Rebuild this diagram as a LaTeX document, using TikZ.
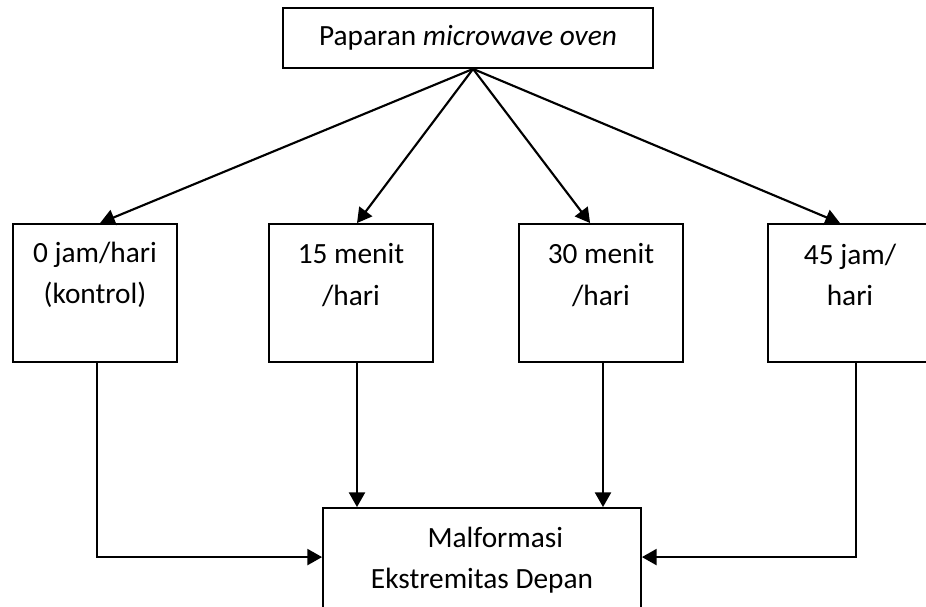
\documentclass[tikz,border=0pt]{standalone}
\usepackage{fontspec}
\setmainfont{Carlito}
\usetikzlibrary{arrows.meta}

\begin{document}
\begin{tikzpicture}[x=0.375pt, y=-0.375pt,
    every node/.style={font=\fontsize{11}{15.4}\selectfont},
    mybox/.style={rectangle, draw=black, line width=0.7pt, inner sep=0pt, align=center},
    dosebox/.style={mybox, minimum width=61.5pt, minimum height=51.75pt},
    doselabel/.style={inner sep=0pt, align=center},
    myarrow/.style={-{Triangle[length=5.5pt,width=6pt]}, line width=0.8pt}]
    \useasboundingbox (0,0) rectangle (926,606);
    \clip (0,0) rectangle (926,606); % right box and bottom box run off the page
    \node[mybox, minimum width=138.75pt, minimum height=22.5pt] (paparan) at (468,38) {Paparan \textit{microwave oven}};
    \node[dosebox] (d0) at (95,293) {};
    \node[dosebox] (d15) at (351,293) {};
    \node[dosebox] (d30) at (601,293) {};
    \node[dosebox] (d45) at (850,293) {};
    \node[doselabel] (t0) at (95,275) {0 jam/hari\\(kontrol)}; % labels sit in the top half
    \node[doselabel] (t15) at (351,275) {15 menit\\/hari};
    \node[doselabel] (t30) at (601,275) {30 menit\\/hari};
    \node[doselabel] (t45) at (850,275) {45 jam/\\hari};
    \node[mybox, minimum width=119.25pt, minimum height=39pt] (malformasi) at (482,560) {\hspace*{10pt}Malformasi\\Ekstremitas Depan};
    \draw[myarrow] ([xshift=1.9pt]paparan.south) -- ([xshift=1.9pt]d0.north);
    \draw[myarrow] ([xshift=1.9pt]paparan.south) -- ([xshift=2.25pt]d15.north);
    \draw[myarrow] ([xshift=1.9pt]paparan.south) -- ([xshift=-4.1pt]d30.north);
    \draw[myarrow] ([xshift=1.9pt]paparan.south) -- ([xshift=-3.75pt]d45.north);
    \draw[myarrow] ([xshift=0.75pt]d0.south) |- ([yshift=1.1pt]malformasi.west);
    \draw[myarrow] ([xshift=2.25pt]d15.south) -- ([xshift=2.25pt]d15.south |- malformasi.north);
    \draw[myarrow] ([xshift=0.75pt]d30.south) -- ([xshift=0.75pt]d30.south |- malformasi.north);
    \draw[myarrow] ([xshift=2.25pt]d45.south) |- ([yshift=1.1pt]malformasi.east);
\end{tikzpicture}
\end{document}
